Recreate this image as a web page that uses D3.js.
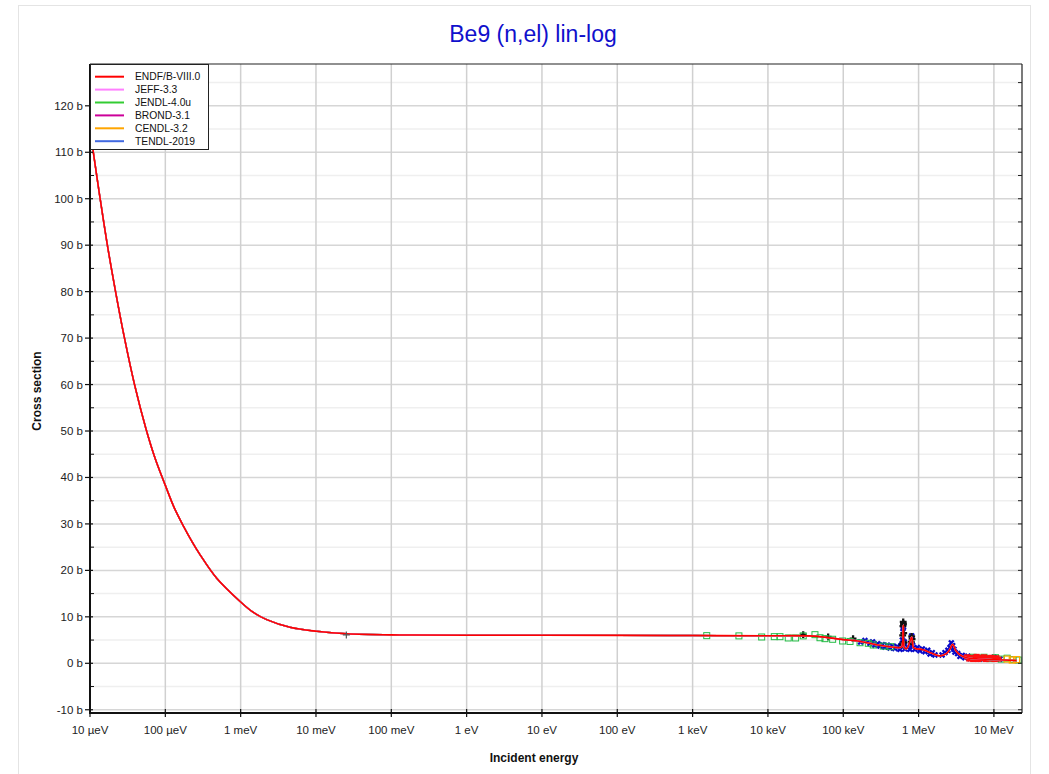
<!DOCTYPE html>
<html>
<head>
<meta charset="utf-8">
<script src="https://cdn.jsdelivr.net/npm/d3@7"></script>
<style>
  body { margin: 0; background: #fff; }
  text { font-family: "Liberation Sans", Arial, sans-serif; }
</style>
</head>
<body>
<div id="chart"></div>
<script>
// evaluated libraries (legend order)
var libNames = ["ENDF/B-VIII.0", "JEFF-3.3", "JENDL-4.0u", "BROND-3.1", "CENDL-3.2", "TENDL-2019"];
var libColors = ["#ff0000", "#ff80ff", "#33cc33", "#cc0099", "#ffa500", "#4169e1"];

// evaluated curve (energy in eV, cross section in b)
var curveE = [1e-5, 1.107e-5, 1.358e-5, 1.69e-5, 2.163e-5, 2.844e-5, 3.9e-5, 5.53e-5, 7.29e-5, 1e-4,
  1.303e-4, 1.731e-4, 2.26e-4, 2.884e-4, 4.81e-4, 1e-3, 1.459e-3, 2.22e-3, 4.52e-3, 1.02e-2,
  2.56e-2, 0.13, 1, 100, 1000, 1e4, 4e4, 1e5, 1.7e5, 3e5, 5.7e5, 6.0e5, 6.27e5, 6.5e5, 7.0e5,
  8.1e5, 8.5e5, 8.95e5, 1.15e6, 1.5e6, 1.92e6, 2.36e6, 2.6e6, 2.83e6, 3.1e6, 3.54e6, 4.35e6,
  9.8e6, 2e7];
var curveS = [115, 110, 100.2, 90.3, 80.4, 70.3, 60, 50.5, 44.2, 38.3,
  33.6, 29.6, 26.2, 23.4, 18.3, 13.2, 11.0, 9.4, 7.75, 6.9,
  6.35, 6.1, 6.05, 6.0, 5.97, 5.93, 5.85, 5.1, 4.7, 3.9, 3.4, 3.6, 8.2, 3.3, 3.2,
  5.6, 3.5, 3.2, 2.9, 2.15, 1.6, 2.15, 3.0, 4.1, 2.8, 1.8, 1.2,
  0.8, 0.6];

// measured data
var thermalE = [0.0253], thermalS = [6.1];
var greenE = [1540, 4120, 8260, 12140, 14450, 18600, 23300, 29400, 42100, 49100, 57200, 72300,
  98100, 1.23e5, 1.67e5, 2.15e5, 2.5e5, 3.4e5, 4.26e5,
  5.3e6, 6.2e6, 7.4e6, 8.8e6, 1.05e7, 1.25e7, 1.5e7, 1.8e7, 2.1e7];
var greenS = [5.95, 5.9, 5.66, 5.73, 5.73, 5.45, 5.45, 5.9, 6.16, 5.5, 5.3, 5.17,
  4.8, 4.7, 4.43, 4.3, 3.94, 3.7, 3.57,
  1.3, 1.1, 1.3, 1.0, 1.2, 0.9, 1.1, 0.8, 0.7];
var blackE = [29400, 63000, 1.35e5, 6.05e5, 6.15e5, 6.2e5, 6.25e5, 6.3e5, 6.35e5, 6.4e5, 8.0e5, 8.1e5, 8.2e5];
var blackS = [6.16, 5.7, 5.3, 4.0, 6.0, 8.0, 8.9, 8.5, 6.5, 4.5, 4.6, 5.8, 5.2];
var blueE = [1.7e5, 1.94e5, 2.26e5, 2.45e5, 2.63e5, 2.85e5, 3.07e5, 3.3e5, 3.57e5, 3.85e5, 4.17e5,
  4.5e5, 4.85e5, 5.2e5, 5.66e5, 5.9e5, 6.1e5, 6.2e5, 6.3e5, 6.45e5, 6.59e5, 7.1e5, 7.68e5, 7.9e5,
  8.1e5, 8.3e5, 8.95e5, 9.6e5, 1.04e6, 1.12e6, 1.22e6, 1.32e6, 1.42e6, 1.52e6, 1.65e6,
  2.05e6, 2.24e6, 2.45e6, 2.61e6, 2.72e6, 2.83e6, 2.95e6, 3.04e6, 3.3e6, 3.54e6, 3.8e6,
  4.12e6, 4.5e6, 4.81e6, 5.6e6, 6.53e6, 7.6e6, 8.86e6, 1.0e7, 1.2e7];
var blueS = [4.6, 4.9, 4.3, 4.6, 3.9, 4.2, 3.7, 4.0, 3.5, 3.9, 3.3,
  3.7, 3.2, 3.6, 3.0, 3.9, 5.0, 7.5, 7.8, 4.6, 3.1, 3.6, 3.0, 4.2,
  5.9, 3.9, 3.0, 3.4, 2.7, 3.1, 2.5, 2.8, 2.0, 2.3, 1.8,
  1.8, 2.3, 2.8, 3.4, 4.4, 3.8, 3.0, 2.4, 2.1, 1.5, 1.7,
  1.2, 1.5, 1.0, 1.3, 0.9, 1.2, 1.0, 1.3, 0.9];
var redE = [4.4e6, 4.7e6, 5.0e6, 5.3e6, 5.6e6, 5.9e6, 6.2e6, 6.6e6, 7.0e6, 7.4e6, 7.8e6, 8.2e6,
  8.7e6, 9.2e6, 9.7e6, 1.02e7, 1.08e7, 1.15e7];
var redS = [1.4, 0.9, 1.3, 0.8, 1.2, 1.5, 0.8, 1.3, 1.0, 1.4, 0.8, 1.2, 0.9, 1.3, 1.0, 0.8, 1.2, 0.9];
var orangeE = [1.5e7, 1.75e7, 2.0e7], orangeS = [0.9, 0.7, 0.8];

var xTicks = [1e-5, 1e-4, 1e-3, 1e-2, 1e-1, 1, 10, 100, 1e3, 1e4, 1e5, 1e6, 1e7];
var xTickLabels = ["10 µeV", "100 µeV", "1 meV", "10 meV", "100 meV", "1 eV", "10 eV", "100 eV",
  "1 keV", "10 keV", "100 keV", "1 MeV", "10 MeV"];

var W = 1049, H = 774;
var plot = { left: 90, right: 1022, top: 64, bottom: 713 };

var svg = d3.select("#chart").append("svg")
  .attr("width", W)
  .attr("height", H);

// outer frame
svg.append("rect")
  .attr("x", 18.5).attr("y", 5.5)
  .attr("width", 1012).attr("height", 800)
  .attr("fill", "none").attr("stroke", "#e4e4e4");

var x = d3.scaleLog().domain([1e-5, 2.36e7]).range([plot.left, plot.right]);
var y = d3.scaleLinear().domain([-10.7, 129]).range([plot.bottom, plot.top]);

var yMajor = d3.range(-10, 121, 10);
var yMinor = d3.range(-5, 126, 10);

// grid
var grid = svg.append("g");
grid.selectAll(".ymin").data(yMinor).enter().append("line")
  .attr("x1", plot.left).attr("x2", plot.right)
  .attr("y1", function (d) { return y(d); }).attr("y2", function (d) { return y(d); })
  .attr("stroke", "#efefef").attr("stroke-width", 1.5);
grid.selectAll(".ymaj").data(yMajor).enter().append("line")
  .attr("x1", plot.left).attr("x2", plot.right)
  .attr("y1", function (d) { return y(d); }).attr("y2", function (d) { return y(d); })
  .attr("stroke", "#d6d6d6").attr("stroke-width", 1.5);
grid.selectAll(".xmaj").data(xTicks).enter().append("line")
  .attr("x1", function (d) { return x(d); }).attr("x2", function (d) { return x(d); })
  .attr("y1", plot.top).attr("y2", plot.bottom)
  .attr("stroke", "#d0d0d0").attr("stroke-width", 1.5);

// evaluated curves, ENDF drawn last so it sits on top
var curve = curveE.map(function (e, i) { return [e, curveS[i]]; });
var line = d3.line()
  .x(function (d) { return x(d[0]); })
  .y(function (d) { return y(d[1]); })
  .curve(d3.curveCatmullRom.alpha(0.5));

svg.append("clipPath").attr("id", "clip")
  .append("rect")
  .attr("x", plot.left).attr("y", plot.top)
  .attr("width", plot.right - plot.left).attr("height", plot.bottom - plot.top);

var data = svg.append("g").attr("clip-path", "url(#clip)");

function pairs(es, ss) {
  return es.map(function (e, i) { return [e, ss[i]]; });
}

// measured points
data.append("g").selectAll("path")
  .data(pairs(blueE, blueS)).enter().append("path")
  .attr("d", d3.symbol(d3.symbolCross, 26))
  .attr("transform", function (d) { return "translate(" + x(d[0]) + "," + y(d[1]) + ") rotate(45)"; })
  .attr("fill", "#0a0ac8");

data.append("g").selectAll("path")
  .data(pairs(blackE, blackS)).enter().append("path")
  .attr("d", d3.symbol(d3.symbolCross, 26))
  .attr("transform", function (d) { return "translate(" + x(d[0]) + "," + y(d[1]) + ")"; })
  .attr("fill", "#111");

data.append("g").selectAll("rect")
  .data(pairs(greenE, greenS)).enter().append("rect")
  .attr("x", function (d) { return x(d[0]) - 3; })
  .attr("y", function (d) { return y(d[1]) - 3; })
  .attr("width", 6).attr("height", 6)
  .attr("fill", "none").attr("stroke", "#22bb44").attr("stroke-width", 1);

data.append("g").selectAll("rect")
  .data(pairs(redE, redS)).enter().append("rect")
  .attr("x", function (d) { return x(d[0]) - 3; })
  .attr("y", function (d) { return y(d[1]) - 2.5; })
  .attr("width", 6).attr("height", 5)
  .attr("fill", "#ff1010");

data.append("g").selectAll("rect")
  .data(pairs(orangeE, orangeS)).enter().append("rect")
  .attr("x", function (d) { return x(d[0]) - 3; })
  .attr("y", function (d) { return y(d[1]) - 3; })
  .attr("width", 6).attr("height", 6)
  .attr("fill", "none").attr("stroke", "#ffaa00").attr("stroke-width", 1.2);

for (var i = libNames.length - 1; i >= 0; i--) {
  data.append("path")
    .datum(curve)
    .attr("d", line)
    .attr("fill", "none")
    .attr("stroke", libColors[i])
    .attr("stroke-width", i === 0 ? 1.6 : 1.4);
}

// thermal point
data.selectAll(".therm")
  .data(pairs(thermalE, thermalS)).enter().append("path")
  .attr("d", "M-3.5,0H3.5M0,-3.5V3.5")
  .attr("transform", function (d) { return "translate(" + x(d[0]) + "," + y(d[1]) + ")"; })
  .attr("stroke", "#555").attr("stroke-width", 1.2);

// frame: top and right thin, left and bottom thick
svg.append("line").attr("x1", plot.left).attr("x2", plot.right)
  .attr("y1", plot.top).attr("y2", plot.top).attr("stroke", "#222").attr("stroke-width", 1.2);
svg.append("line").attr("x1", plot.right).attr("x2", plot.right)
  .attr("y1", plot.top).attr("y2", plot.bottom).attr("stroke", "#222").attr("stroke-width", 1.2);

// right side ticks
svg.append("g").selectAll("line")
  .data(yMajor.concat(yMinor)).enter().append("line")
  .attr("x1", plot.right - 4).attr("x2", plot.right)
  .attr("y1", function (d) { return y(d); }).attr("y2", function (d) { return y(d); })
  .attr("stroke", "#222");

// y axis
var yAxis = svg.append("g");
yAxis.append("line").attr("x1", plot.left).attr("x2", plot.left)
  .attr("y1", plot.top).attr("y2", plot.bottom + 1).attr("stroke", "#111").attr("stroke-width", 2);
yAxis.selectAll(".tk").data(yMajor).enter().append("line")
  .attr("x1", plot.left - 5).attr("x2", plot.left + 3)
  .attr("y1", function (d) { return y(d); }).attr("y2", function (d) { return y(d); })
  .attr("stroke", "#111").attr("stroke-width", 1.2);
yAxis.selectAll(".mt").data(yMinor).enter().append("line")
  .attr("x1", plot.left).attr("x2", plot.left + 4)
  .attr("y1", function (d) { return y(d); }).attr("y2", function (d) { return y(d); })
  .attr("stroke", "#111").attr("stroke-width", 1);
yAxis.selectAll("text").data(yMajor).enter().append("text")
  .attr("x", plot.left - 7)
  .attr("y", function (d) { return y(d) + 4; })
  .attr("text-anchor", "end")
  .attr("font-size", 11.5)
  .attr("fill", "#222")
  .text(function (d) { return d + " b"; });

// x axis
var xAxis = svg.append("g");
xAxis.append("line").attr("x1", plot.left - 1).attr("x2", plot.right)
  .attr("y1", plot.bottom).attr("y2", plot.bottom).attr("stroke", "#111").attr("stroke-width", 2);
xAxis.selectAll(".tk").data(xTicks).enter().append("line")
  .attr("x1", function (d) { return x(d); }).attr("x2", function (d) { return x(d); })
  .attr("y1", plot.bottom - 4).attr("y2", plot.bottom + 4)
  .attr("stroke", "#111").attr("stroke-width", 1.2);
xAxis.selectAll("text").data(xTicks).enter().append("text")
  .attr("x", function (d) { return x(d); })
  .attr("y", 734)
  .attr("text-anchor", "middle")
  .attr("font-size", 11.5)
  .attr("fill", "#222")
  .text(function (d, i) { return xTickLabels[i]; });

// titles
svg.append("text")
  .attr("x", 533).attr("y", 42)
  .attr("text-anchor", "middle")
  .attr("font-size", 23)
  .attr("fill", "#1010cc")
  .text("Be9 (n,el) lin-log");

svg.append("text")
  .attr("x", 534).attr("y", 762)
  .attr("text-anchor", "middle")
  .attr("font-size", 12)
  .attr("font-weight", "bold")
  .attr("fill", "#111")
  .text("Incident energy");

svg.append("text")
  .attr("transform", "translate(41,391) rotate(-90)")
  .attr("text-anchor", "middle")
  .attr("font-size", 12)
  .attr("font-weight", "bold")
  .attr("fill", "#111")
  .text("Cross section");

// legend
var legend = svg.append("g");
legend.append("rect")
  .attr("x", 90.5).attr("y", 64.5)
  .attr("width", 118).attr("height", 85)
  .attr("fill", "#fff").attr("stroke", "#222").attr("stroke-width", 1);
var rows = legend.selectAll(".row").data(libNames).enter().append("g")
  .attr("transform", function (d, i) { return "translate(0," + (76.7 + i * 12.9) + ")"; });
rows.append("line")
  .attr("x1", 95).attr("x2", 124)
  .attr("stroke", function (d, i) { return libColors[i]; })
  .attr("stroke-width", 2);
rows.append("text")
  .attr("x", 135).attr("y", 3.6)
  .attr("font-size", 10.3)
  .attr("fill", "#111")
  .text(function (d) { return d; });
</script>
</body>
</html>
